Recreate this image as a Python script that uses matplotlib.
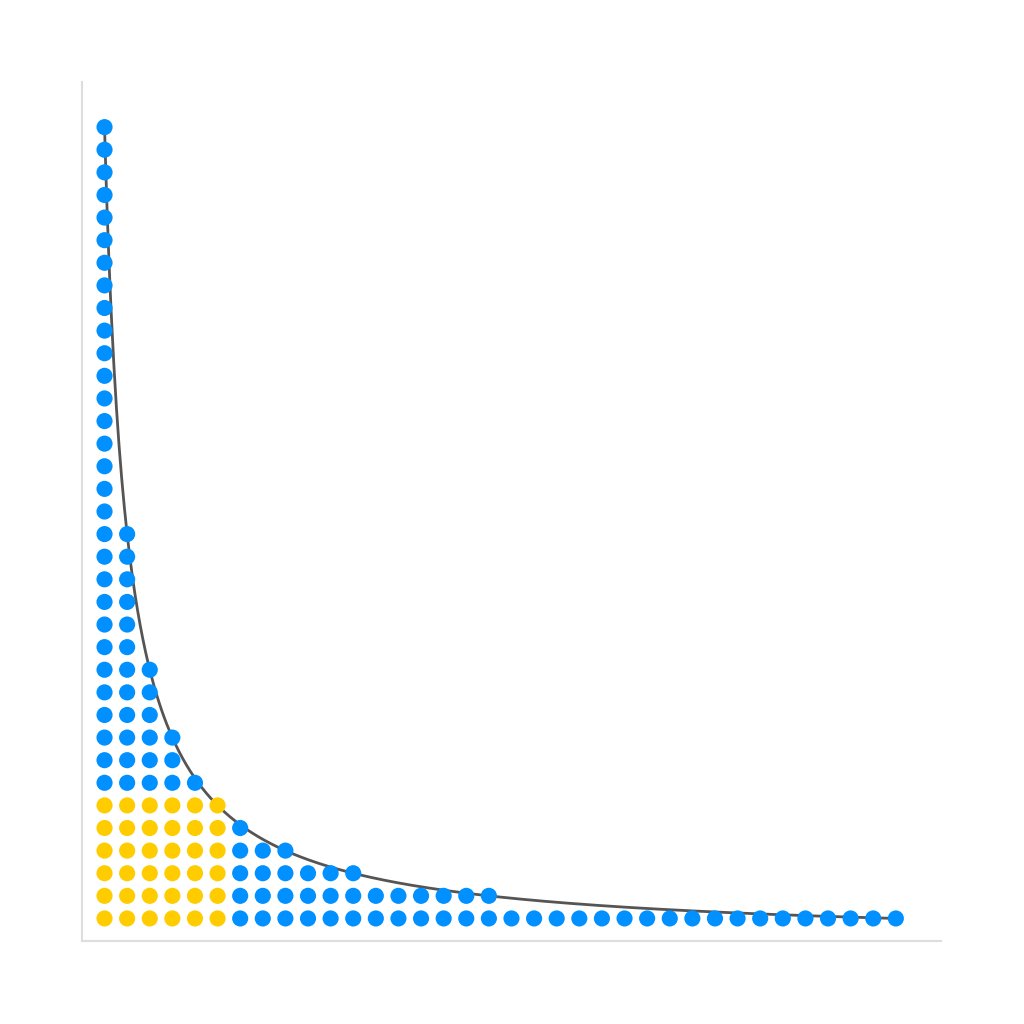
import numpy as np
import matplotlib.pyplot as plt

# number 36 and its divisor staircase
N = 36
cols = list(range(1, N + 1))
heights = [N // c for c in cols]   # dots per column, under y = N/x
side = 6                            # the 6 x 6 square

blue = "#0090ff"
yellow = "#ffcc00"

xs = []; ys = []; cs = []
for c, h in zip(cols, heights):
    for r in range(1, h + 1):
        xs.append(c); ys.append(r)
        cs.append(yellow if (c <= side and r <= side) else blue)

fig, ax = plt.subplots(figsize=(10.24, 10.24), dpi=100)
fig.subplots_adjust(left=0.08, right=0.919, bottom=0.081, top=0.92)

xx = np.linspace(1, N, 600)
ax.plot(xx, N / xx, color="#555555", lw=2, zorder=1)
ax.scatter(xs, ys, s=135, c=cs, edgecolors="none", zorder=2)

ax.set_xlim(0, 38)
ax.set_ylim(0, 38)
ax.set_xticks([]); ax.set_yticks([])
for s in ["top", "right"]:
    ax.spines[s].set_visible(False)
for s in ["left", "bottom"]:
    ax.spines[s].set_color("#dddddd")
    ax.spines[s].set_linewidth(1.5)

plt.savefig("out.png", dpi=100)
